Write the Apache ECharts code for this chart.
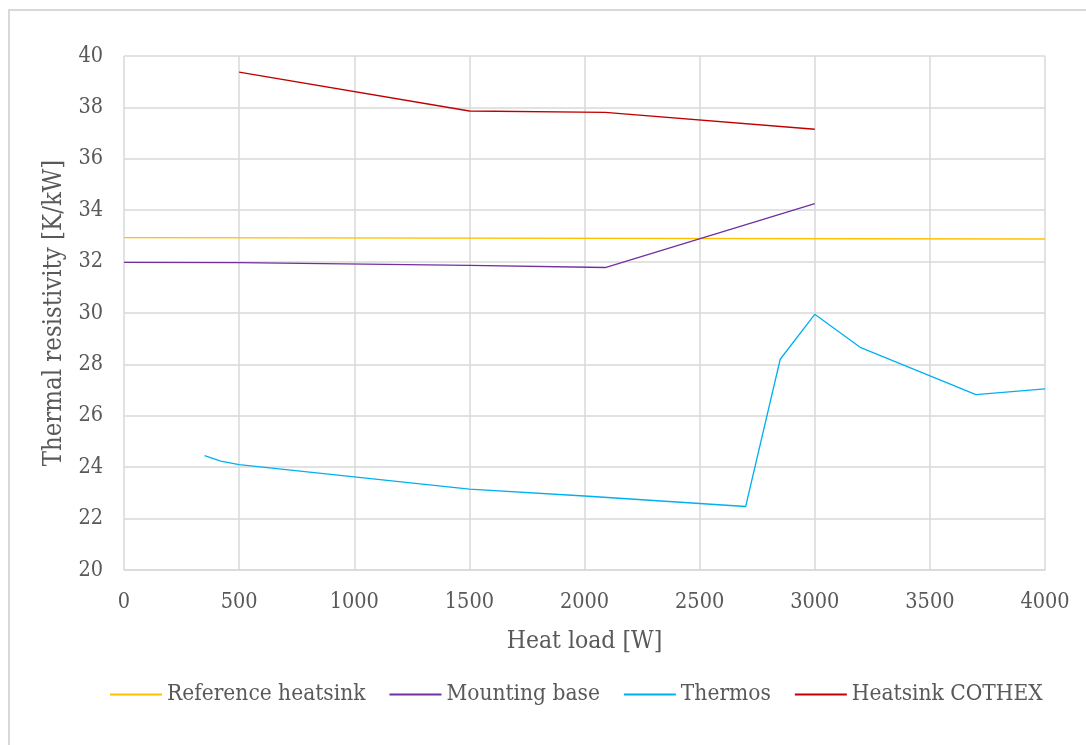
<!DOCTYPE html>
<html>
<head>
<meta charset="utf-8">
<title>Thermal resistivity vs heat load</title>
<script src="https://cdn.jsdelivr.net/npm/echarts@6/dist/echarts.min.js"></script>
<style>
  html, body { margin: 0; padding: 0; background: #ffffff; }
  #chart { width: 1086px; height: 745px; }
</style>
</head>
<body>
<div id="chart"></div>
<script>
// Measured thermal resistivity [K/kW] at each heat load [W]
const referenceHeatsink = [[0, 32.93], [4000, 32.88]];
const mountingBase = [[0, 31.97], [500, 31.96], [1500, 31.85], [2090, 31.77], [3000, 34.26]];
const thermos = [
  [350, 24.45], [420, 24.24], [500, 24.1], [1000, 23.62], [1500, 23.15], [2000, 22.88],
  [2700, 22.47], [2850, 28.2], [3000, 29.95], [3200, 28.65], [3700, 26.82], [4000, 27.05]
];
const heatsinkCothex = [[500, 39.37], [1500, 37.86], [2090, 37.81], [3000, 37.15]];

const seriesNames = ['Reference heatsink', 'Mounting base', 'Thermos', 'Heatsink COTHEX'];
const seriesColors = ['#FFC000', '#7030A0', '#00B0F0', '#C00000'];
const seriesData = [referenceHeatsink, mountingBase, thermos, heatsinkCothex];

const xAxisTitle = 'Heat load [W]';
const yAxisTitle = 'Thermal resistivity [K/kW]';

const FONT = '"DejaVu Serif Condensed", "DejaVu Serif", serif';
const TEXT = '#595959';
const GRID = '#d9d9d9';

const chart = echarts.init(document.getElementById('chart'), null, { renderer: 'canvas' });

chart.setOption({
  animation: false,
  backgroundColor: '#ffffff',
  textStyle: { fontFamily: FONT, color: TEXT },
  graphic: [{
    type: 'rect',
    shape: { x: 9, y: 10, width: 1200, height: 900 },
    style: { fill: 'none', stroke: GRID, lineWidth: 2 },
    silent: true,
    z: -10
  }],
  grid: { left: 124, right: 41, top: 56, bottom: 175, containLabel: false },
  legend: {
    bottom: 34,
    left: 105,
    itemWidth: 52,
    itemHeight: 2,
    itemGap: 24,
    icon: 'rect',
    textStyle: { fontFamily: FONT, fontSize: 22.5, color: TEXT, padding: [0, 0, 0, 0] },
    data: seriesNames
  },
  xAxis: {
    type: 'value',
    min: 0,
    max: 4000,
    interval: 500,
    name: xAxisTitle,
    nameLocation: 'middle',
    nameGap: 59,
    nameTextStyle: { fontFamily: FONT, fontSize: 24.5, color: TEXT },
    axisLine: { show: true, lineStyle: { color: GRID, width: 1.5 } },
    axisTick: { show: false },
    axisLabel: {
      fontFamily: FONT, fontSize: 21.5, color: TEXT, margin: 21,
      formatter: v => String(v)
    },
    splitLine: { show: true, lineStyle: { color: GRID, width: 1.5 } }
  },
  yAxis: {
    type: 'value',
    min: 20,
    max: 40,
    interval: 2,
    name: yAxisTitle,
    nameLocation: 'middle',
    nameGap: 55,
    nameRotate: 90,
    nameTextStyle: { fontFamily: FONT, fontSize: 25.5, color: TEXT },
    axisLine: { show: false },
    axisTick: { show: false },
    axisLabel: { fontFamily: FONT, fontSize: 21.5, color: TEXT, margin: 21 },
    splitLine: { show: true, lineStyle: { color: GRID, width: 1.5 } }
  },
  series: seriesNames.map((name, i) => ({
    name: name,
    type: 'line',
    data: seriesData[i],
    showSymbol: false,
    symbol: 'none',
    color: seriesColors[i],
    lineStyle: { color: seriesColors[i], width: 1.3 },
    emphasis: { disabled: true }
  }))
});
</script>
</body>
</html>
